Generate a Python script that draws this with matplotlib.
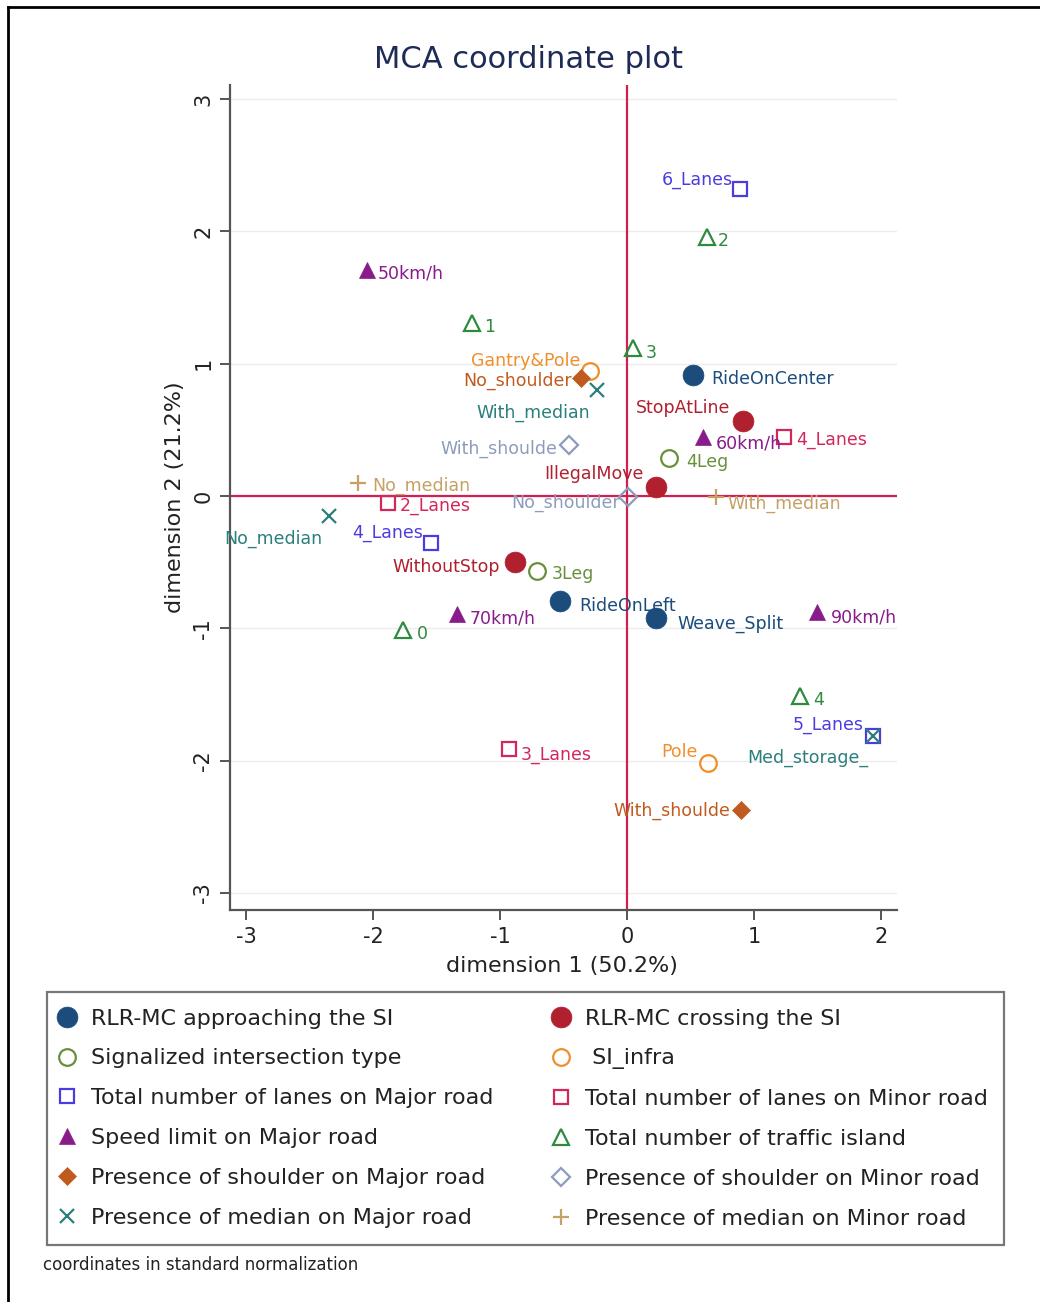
import matplotlib
matplotlib.use("Agg")
import matplotlib.pyplot as plt
from matplotlib.lines import Line2D

plt.rcParams['font.family'] = ['DejaVu Sans']

# ---------------- MCA coordinates (dimension 1, dimension 2) ----------------
approach_cats = ["RideOnCenter", "RideOnLeft", "Weave_Split"]
approach_dim1 = [0.52, -0.53, 0.23]
approach_dim2 = [0.915, -0.79, -0.92]

crossing_cats = ["StopAtLine", "IllegalMove", "WithoutStop"]
crossing_dim1 = [0.91, 0.23, -0.88]
crossing_dim2 = [0.57, 0.07, -0.50]

si_type_cats = ["4Leg", "3Leg"]
si_type_dim1 = [0.33, -0.71]
si_type_dim2 = [0.29, -0.57]

si_infra_cats = ["Gantry&Pole", "Pole"]
si_infra_dim1 = [-0.29, 0.64]
si_infra_dim2 = [0.945, -2.02]

lanes_major_cats = ["4_Lanes", "5_Lanes", "6_Lanes"]
lanes_major_dim1 = [-1.54, 1.94, 0.89]
lanes_major_dim2 = [-0.355, -1.81, 2.32]

lanes_minor_cats = ["2_Lanes", "3_Lanes", "4_Lanes"]
lanes_minor_dim1 = [-1.88, -0.93, 1.24]
lanes_minor_dim2 = [-0.05, -1.91, 0.445]

speed_cats = ["50km/h", "60km/h", "70km/h", "90km/h"]
speed_dim1 = [-2.05, 0.60, -1.34, 1.50]
speed_dim2 = [1.71, 0.445, -0.89, -0.88]

island_cats = ["0", "1", "2", "3", "4"]
island_dim1 = [-1.76, -1.22, 0.63, 0.05, 1.36]
island_dim2 = [-1.01, 1.31, 1.96, 1.12, -1.51]

shoulder_major_cats = ["No_shoulder", "With_shoulde"]
shoulder_major_dim1 = [-0.36, 0.90]
shoulder_major_dim2 = [0.89, -2.37]

shoulder_minor_cats = ["With_shoulde", "No_shoulder"]
shoulder_minor_dim1 = [-0.46, 0.01]
shoulder_minor_dim2 = [0.385, -0.01]

median_major_cats = ["With_median", "No_median", "Med_storage_"]
median_major_dim1 = [-0.24, -2.35, 1.94]
median_major_dim2 = [0.80, -0.15, -1.81]

median_minor_cats = ["No_median", "With_median"]
median_minor_dim1 = [-2.12, 0.70]
median_minor_dim2 = [0.10, -0.01]

legend_labels = [
    "RLR-MC approaching the SI",
    "RLR-MC crossing the SI",
    "Signalized intersection type",
    " SI_infra",
    "Total number of lanes on Major road",
    "Total number of lanes on Minor road",
    "Speed limit on Major road",
    "Total number of traffic island",
    "Presence of shoulder on Major road",
    "Presence of shoulder on Minor road",
    "Presence of median on Major road",
    "Presence of median on Minor road",
]

x_ticks = [-3, -2, -1, 0, 1, 2]
y_ticks = [-3, -2, -1, 0, 1, 2, 3]

# ---------------- styles ----------------
W, H = 1040, 1302
fig = plt.figure(figsize=(W / 100, H / 100), dpi=100)
ax = fig.add_axes([230 / W, 392 / H, 667 / W, 825 / H])

styles = [
    dict(marker="o", color="#1b4c7c", filled=True, ms=15),
    dict(marker="o", color="#b0202f", filled=True, ms=15),
    dict(marker="o", color="#6a8f3c", filled=False, ms=12),
    dict(marker="o", color="#ef8f2c", filled=False, ms=12),
    dict(marker="s", color="#4a3ce0", filled=False, ms=10),
    dict(marker="s", color="#d3265a", filled=False, ms=10),
    dict(marker="^", color="#891b8a", filled=True, ms=11),
    dict(marker="^", color="#2e8a3e", filled=False, ms=11),
    dict(marker="D", color="#c05a1e", filled=True, ms=9.5),
    dict(marker="D", color="#8c9cbc", filled=False, ms=9.5),
    dict(marker="x", color="#2a7f7c", filled=False, ms=10),
    dict(marker="+", color="#c6a064", filled=False, ms=11),
]

# label placement per point: (dx px, dy px, horizontal alignment)
label_place = [
    [(18, -4, "left"), (20, -5, "left"), (21, -6, "left")],
    [(-12, 13, "right"), (-13, 13, "right"), (-15, -5, "right")],
    [(17, -4, "left"), (15, -3, "left")],
    [(-10, 10, "right"), (-11, 11, "right")],
    [(-8, 10, "right"), (-10, 11, "right"), (-7, 9, "right")],
    [(12, -3, "left"), (12, -6, "left"), (12, -3, "left")],
    [(11, -4, "left"), (13, -6, "left"), (13, -5, "left"), (13, -5, "left")],
    [(13, -4, "left"), (12, -4, "left"), (11, -4, "left"), (12, -5, "left"), (13, -4, "left")],
    [(-9, -3, "right"), (-11, -1, "right")],
    [(-11, -4, "right"), (-8, -5, "right")],
    [(-6, -23, "right"), (-6, -23, "right"), (-5, -22, "right")],
    [(14, -3, "left"), (12, -6, "left")],
]

series = [
    (approach_cats, approach_dim1, approach_dim2),
    (crossing_cats, crossing_dim1, crossing_dim2),
    (si_type_cats, si_type_dim1, si_type_dim2),
    (si_infra_cats, si_infra_dim1, si_infra_dim2),
    (lanes_major_cats, lanes_major_dim1, lanes_major_dim2),
    (lanes_minor_cats, lanes_minor_dim1, lanes_minor_dim2),
    (speed_cats, speed_dim1, speed_dim2),
    (island_cats, island_dim1, island_dim2),
    (shoulder_major_cats, shoulder_major_dim1, shoulder_major_dim2),
    (shoulder_minor_cats, shoulder_minor_dim1, shoulder_minor_dim2),
    (median_major_cats, median_major_dim1, median_major_dim2),
    (median_minor_cats, median_minor_dim1, median_minor_dim2),
]

# ---------------- axes frame ----------------
ax.set_xlim(-3.126, 2.126)
ax.set_ylim(-3.129, 3.107)
for side in ("top", "right"):
    ax.spines[side].set_visible(False)
for side in ("left", "bottom"):
    ax.spines[side].set_color("#555555")
    ax.spines[side].set_linewidth(1.6)
ax.set_xticks(x_ticks)
ax.set_yticks(y_ticks)
ax.set_xticklabels([str(t) for t in x_ticks])
ax.set_yticklabels([str(t) for t in y_ticks], rotation=90, va="center")
ax.tick_params(axis="both", direction="out", length=7, width=1.4,
               color="#555555", labelsize=15, labelcolor="#222222", pad=5)
ax.yaxis.grid(True, color="#ececec", lw=1.0)
ax.set_axisbelow(True)

ax.axhline(0, color="#d21f4f", lw=1.6, zorder=1)
ax.axvline(0, color="#d21f4f", lw=1.6, zorder=1)

# ---------------- points and labels ----------------
handles = []
for (cats, d1, d2), st, places in zip(series, styles, label_place):
    c = st["color"]
    face = c if st["filled"] else "none"
    mew = 1.6 if not st["filled"] else 0.5
    line, = ax.plot(d1, d2, linestyle="none", marker=st["marker"],
                    markersize=st["ms"], markerfacecolor=face,
                    markeredgecolor=c, markeredgewidth=mew, zorder=3)
    handles.append(line)
    for cat, x, y, (dx, dy, ha) in zip(cats, d1, d2, places):
        ax.annotate(cat, (x, y), xytext=(dx, dy), textcoords="offset pixels",
                    ha=ha, va="center", fontsize=12.5, color=c, zorder=4)

# ---------------- titles ----------------
fig.text(528 / W, 1 - 60 / H, "MCA coordinate plot", ha="center", va="center",
         fontsize=22, color="#1f2b57")
fig.text(562 / W, 1 - 966 / H, "dimension 1 (50.2%)", ha="center", va="center",
         fontsize=16, color="#222222")
fig.text(175 / W, 1 - 497 / H, "dimension 2 (21.2%)", ha="center", va="center",
         fontsize=16, color="#222222", rotation=90)

# ---------------- legend (row-major order across two columns) ----------------
order = [0, 2, 4, 6, 8, 10, 1, 3, 5, 7, 9, 11]
leg = fig.legend([handles[i] for i in order], [legend_labels[i] for i in order],
                 ncol=2, loc="upper left",
                 bbox_to_anchor=(47 / W, 1 - 992 / H),
                 borderaxespad=0, fontsize=16, labelspacing=0.89,
                 borderpad=0.75, handlelength=0.3, handletextpad=0.93,
                 columnspacing=2.88, fancybox=False, frameon=True)
leg.get_frame().set_edgecolor("#555555")
leg.get_frame().set_linewidth(1.6)
for t in leg.get_texts():
    t.set_color("#222222")

fig.text(43 / W, 1 - 1265 / H, "coordinates in standard normalization",
         ha="left", va="center", fontsize=12, color="#222222")

# outer border
fig.add_artist(Line2D([8 / W, 8 / W], [0, 1 - 7 / H], color="black", lw=2))
fig.add_artist(Line2D([8 / W, 1], [1 - 7 / H, 1 - 7 / H], color="black", lw=2))

fig.savefig("out.png", dpi=100)
